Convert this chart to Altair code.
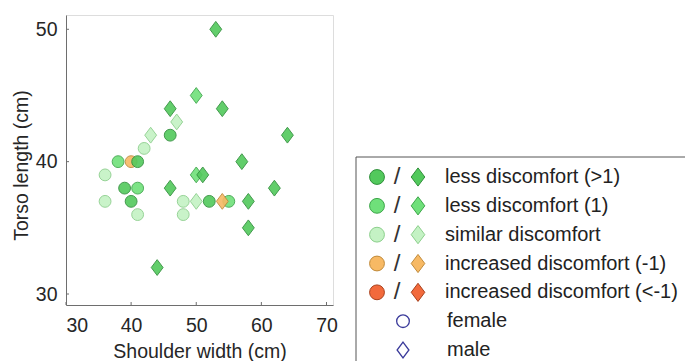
import altair as alt
import pandas as pd

# ---- data ----
sex = (["female"] * 15) + (["male"] * 17)
shoulder = [36, 38, 40, 41, 39, 41, 36, 40, 41, 48, 48, 52, 55, 46, 42,
            53, 50, 46, 54, 47, 43, 64, 57, 50, 51, 46, 50, 54, 58, 58, 62, 44]
torso = [39, 40, 40, 40, 38, 38, 37, 37, 36, 37, 36, 37, 37, 42, 41,
         50, 45, 44, 44, 43, 42, 42, 40, 39, 39, 38, 37, 37, 37, 35, 38, 32]
categories = ["less discomfort (>1)", "less discomfort (1)", "similar discomfort",
              "increased discomfort (-1)", "increased discomfort (<-1)"]
cat_index = [2, 1, 3, 0, 0, 1, 2, 0, 2, 2, 2, 0, 1, 0, 2,
             0, 1, 0, 0, 2, 2, 0, 0, 1, 0, 0, 2, 3, 0, 0, 0, 0]
category = [categories[i] for i in cat_index]
sex_labels = ["female", "male"]
x_ticks = [30, 40, 50, 60, 70]
y_ticks = [30, 40, 50]

# ---- styles ----
fills = ["#52c95c", "#6fe07a", "#c4f2c4", "#f7b964", "#f26a3c"]
strokes = ["#2f8f3a", "#3da64a", "#8ccf8c", "#c08a3a", "#a8401c"]
diamond_path = "M0,-1L0.75,0L0,1L-0.75,0Z"
FONT = "Liberation Sans"

W, H = 267, 290
X_DOM = [30, 71]
Y_DOM = [29.17, 51.08]

df = pd.DataFrame({"sex": sex, "shoulder": shoulder, "torso": torso, "category": category})

fill_scale = alt.Scale(domain=categories, range=fills)
stroke_scale = alt.Scale(domain=categories, range=strokes)
xs = alt.Scale(domain=X_DOM, nice=False, zero=False)
ys = alt.Scale(domain=Y_DOM, nice=False, zero=False)

x_axis = alt.Axis(values=x_ticks, grid=False, ticks=False, tickSize=0,
                  labelPadding=11, titlePadding=8, domainColor="#6e6e6e",
                  labelFont=FONT, titleFont=FONT, labelFontSize=19.5,
                  titleFontSize=19.5, titleFontWeight="normal",
                  labelColor="#262626", titleColor="#262626")
X_ENC = alt.X("shoulder:Q", scale=xs, title="Shoulder width (cm)", axis=x_axis)

points = alt.Chart(df).mark_point(filled=True, opacity=0.9, strokeWidth=1).encode(
    x=X_ENC,
    y=alt.Y("torso:Q", scale=ys, title="Torso length (cm)",
            axis=alt.Axis(values=y_ticks, grid=False, ticks=False, tickSize=0,
                          labelPadding=9, titlePadding=4, titleY=150, domainColor="#6e6e6e",
                          labelFont=FONT, titleFont=FONT, labelFontSize=19.5,
                          titleFontSize=19.5, titleFontWeight="normal",
                          labelColor="#262626", titleColor="#262626")),
    fill=alt.Fill("category:N", scale=fill_scale, legend=None),
    stroke=alt.Stroke("category:N", scale=stroke_scale, legend=None),
    shape=alt.Shape("sex:N", scale=alt.Scale(domain=sex_labels, range=["circle", diamond_path]), legend=None),
    size=alt.Size("sex:N", scale=alt.Scale(domain=sex_labels, range=[140, 250]), legend=None),
)

xtick_layer = alt.Chart(pd.DataFrame({"shoulder": x_ticks})).mark_rule(color="#6e6e6e").encode(
    x=X_ENC, y=alt.value(H), y2=alt.value(H - 3))
ytick_layer = alt.Chart(pd.DataFrame({"t": y_ticks})).mark_rule(color="#6e6e6e").encode(
    y=alt.Y("t:Q", scale=ys, axis=None), x=alt.value(0), x2=alt.value(3))

# ---- legend drawn as layers ----
leg_df = pd.DataFrame({"category": categories, "row": list(range(len(categories)))})
sex_df = pd.DataFrame({"sex": sex_labels, "row": [len(categories), len(categories) + 1]})
row_scale = alt.Scale(domain=[0, 6], range=[162, 335])

box = alt.Chart(pd.DataFrame({"a": [0]})).mark_rect(fill=None, stroke="#555555", strokeWidth=1).encode(
    x=alt.value(290), x2=alt.value(700), y=alt.value(142), y2=alt.value(420))

leg_circles = alt.Chart(leg_df).mark_point(filled=True, shape="circle", size=220, strokeWidth=1, opacity=1).encode(
    x=alt.value(311), y=alt.Y("row:Q", scale=row_scale, axis=None),
    fill=alt.Fill("category:N", scale=fill_scale, legend=None),
    stroke=alt.Stroke("category:N", scale=stroke_scale, legend=None))
leg_slash = alt.Chart(leg_df).mark_text(text="/", font=FONT, fontSize=24, color="#333333",
                                        align="center", baseline="middle").encode(
    x=alt.value(331), y=alt.Y("row:Q", scale=row_scale, axis=None))
leg_diamonds = alt.Chart(leg_df).mark_point(filled=True, shape=diamond_path, size=330, strokeWidth=1, opacity=1).encode(
    x=alt.value(352), y=alt.Y("row:Q", scale=row_scale, axis=None),
    fill=alt.Fill("category:N", scale=fill_scale, legend=None),
    stroke=alt.Stroke("category:N", scale=stroke_scale, legend=None))
leg_text = alt.Chart(leg_df).mark_text(font=FONT, fontSize=20, color="#222222",
                                       align="left", baseline="middle").encode(
    x=alt.value(379), y=alt.Y("row:Q", scale=row_scale, axis=None), text="category:N")

sex_sym = alt.Chart(sex_df).mark_point(filled=False, strokeWidth=1.3, color="#3a3a9a", opacity=1).encode(
    x=alt.value(337), y=alt.Y("row:Q", scale=row_scale, axis=None),
    shape=alt.Shape("sex:N", scale=alt.Scale(domain=sex_labels, range=["circle", diamond_path]), legend=None),
    size=alt.Size("sex:N", scale=alt.Scale(domain=sex_labels, range=[160, 250]), legend=None))
sex_text = alt.Chart(sex_df).mark_text(font=FONT, fontSize=20, color="#222222",
                                       align="left", baseline="middle").encode(
    x=alt.value(381), y=alt.Y("row:Q", scale=row_scale, axis=None), text="sex:N")

chart = alt.layer(points, xtick_layer, ytick_layer, box, leg_circles, leg_slash, leg_diamonds,
                  leg_text, sex_sym, sex_text).resolve_scale(
    y="independent", shape="independent", size="independent"
).properties(
    width=W, height=H,
    autosize=alt.AutoSizeParams(type="none"),
    padding={"left": 66, "top": 15, "right": 352, "bottom": 56},
).configure_view(stroke=None).configure(background="white")

chart.save("out.html", embed_options={"renderer": "svg", "actions": False})
